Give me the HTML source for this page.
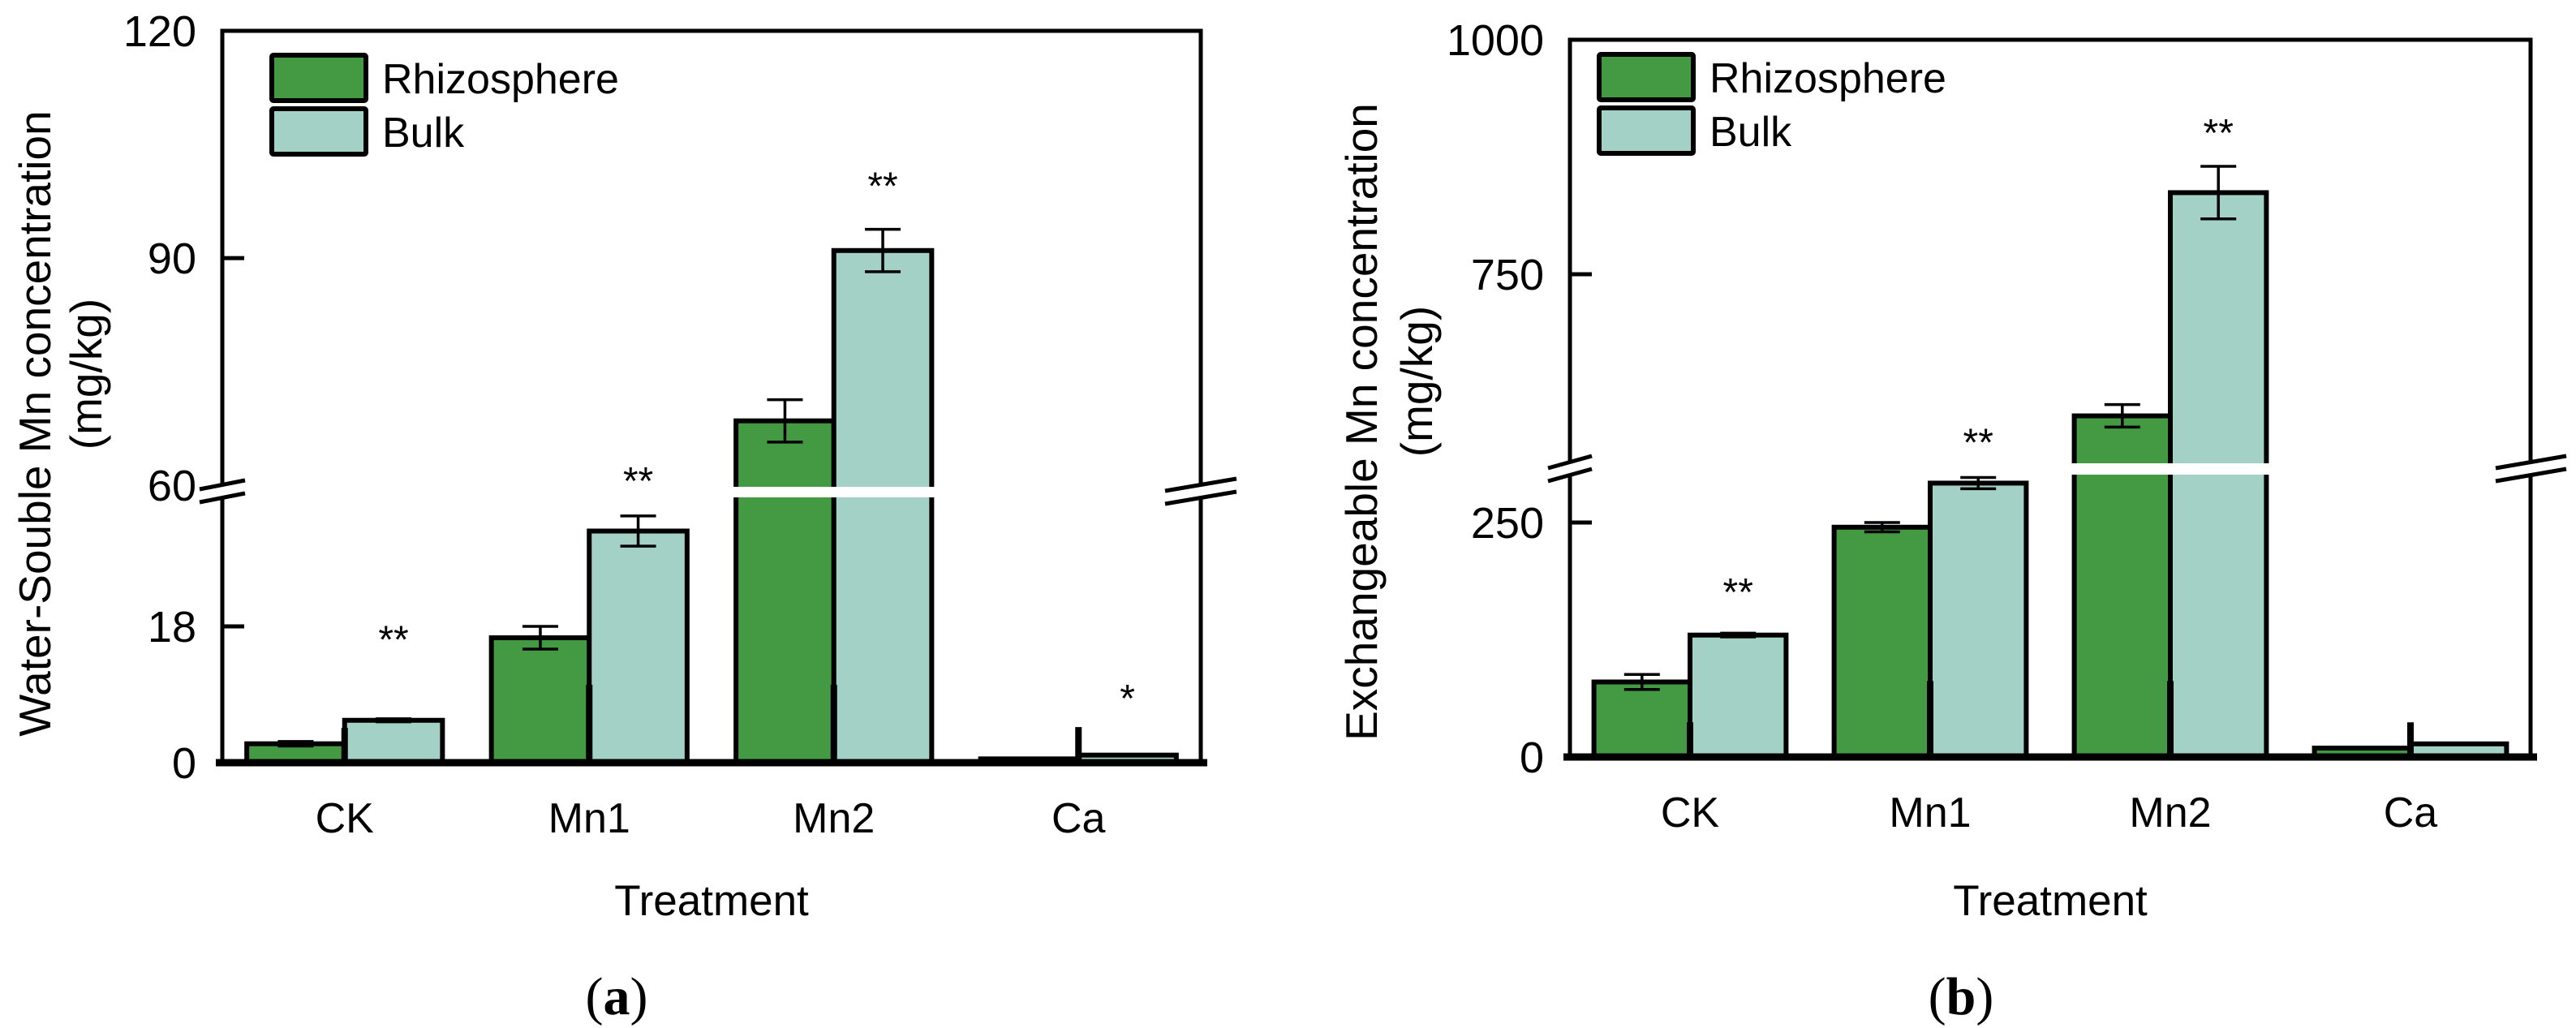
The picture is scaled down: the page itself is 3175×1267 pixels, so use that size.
<!DOCTYPE html>
<html><head><meta charset="utf-8">
<style>
html,body{margin:0;padding:0;background:#fff;}
svg{display:block;font-family:"Liberation Sans",Arial,sans-serif;}
</style></head>
<body>
<svg id="fig" width="3175" height="1267" viewBox="0 0 3175 1267" xmlns="http://www.w3.org/2000/svg">
  <rect x="0" y="0" width="3175" height="1267" fill="#fff"/>
</svg>
<script>
// ---------- data ----------
const categories = ["CK", "Mn1", "Mn2", "Ca"];
// panel (a): water-soluble Mn (mg/kg)
const aRhizo = [2.5, 16.5, 68.5, 0.5];
const aBulk  = [5.6, 30.6, 91.0, 1.0];
const aRhizoErr = [0.3, 1.5, 2.8, 0];
const aBulkErr  = [0.2, 2.0, 2.8, 0];
const aMarkLine = [4.6, 10.3, 10.3, 4.7];
const aStars = ["**", "**", "**", "*"];
const aStarVal = [17.5, 61.8, 100.8, 9.75];
const aTickVals = [0, 18, 60, 90, 120];
const aTickLabels = ["0", "18", "60", "90", "120"];
// panel (b): exchangeable Mn (mg/kg)
const bRhizo = [80, 245, 599, 9.5];
const bBulk  = [130, 292, 837, 14];
const bRhizoErr = [8, 5, 12, 0];
const bBulkErr  = [2, 6, 28, 0];
const bMarkLine = [37, 81, 81, 37];
const bStars = ["**", "**", "**", ""];
const bStarVal = [186, 581, 911, 0];
const bTickVals = [0, 250, 750, 1000];
const bTickLabels = ["0", "250", "750", "1000"];

const NS = "http://www.w3.org/2000/svg";
const svg = document.getElementById("fig");
function el(tag, attrs, parent) {
  const e = document.createElementNS(NS, tag);
  for (const k in attrs) e.setAttribute(k, attrs[k]);
  (parent || svg).appendChild(e);
  return e;
}
function txt(str, attrs, parent) { const t = el("text", attrs, parent); t.textContent = str; return t; }

function drawPanel(P) {
  const g = el("g", {});
  
  
  const y = v => v < P.breakVal ? P.base - v * P.k : P.upRef - (v - P.upVal) * P.k;
  const gw = (P.right - P.left) / categories.length;
  const bw = gw * 0.4;
  const frame = el("path", {d:`M${P.left},${P.base} L${P.left},${P.top} L${P.right},${P.top} L${P.right},${P.base}`, fill:"none", stroke:"#000", "stroke-width":5}, g);
  
  
  categories.forEach((c, i) => {
    const cx = P.left + gw * (i + 0.5);
    const series = [[P.rhizo[i], P.rErr[i], "#439a43", cx - bw, "rhizosphere"], [P.bulk[i], P.bErr[i], "#a3d1c6", cx, "bulk"]];
    series.forEach(s => {
      const top = y(s[0]);
      const r = el("rect", {x:s[3], y:top, width:bw, height:P.base - top, fill:s[2], stroke:"#000", "stroke-width":6}, g);
      
      
      if (s[1] > 0) {
        const ex = s[3] + bw / 2, y1 = y(s[0] + s[1]), y2 = y(s[0] - s[1]);
        const eb = el("path", {d:`M${ex},${y1} L${ex},${y2} M${ex-22},${y1} L${ex+22},${y1} M${ex-22},${y2} L${ex+22},${y2}`, stroke:"#000", "stroke-width":3.5, fill:"none"}, g);
        
        
      }
    });
    const ml = el("line", {x1:cx, x2:cx, y1:P.base, y2:y(P.mark[i]), stroke:"#000", "stroke-width":8}, g);
    
    
    if (P.stars[i]) {
      const st = txt(P.stars[i], {x:cx + bw / 2, y:y(P.starVal[i]) + 28, "font-size":48, "text-anchor":"middle", fill:"#000"}, g);
      
      
    }
    const cl = txt(c, {x:cx, y:P.base + 86, "font-size":52, "text-anchor":"middle", fill:"#000"}, g);
    
    
  });
  const band = el("rect", {x:P.left + 5, y:P.bandY, width:P.right - P.left - 10, height:P.bandH, fill:"#fff"}, g);
  
  
  const xa = el("line", {x1:P.left - 8, x2:P.right + 8, y1:P.base, y2:P.base, stroke:"#000", "stroke-width":9}, g);
  
  
  P.ticks.forEach((v, j) => {
    const ty = y(v);
    if (v !== 0 && ty > P.top + 5 && Math.abs(ty - P.brkY) > 20) {
      const tk = el("line", {x1:P.left, x2:P.left + 27, y1:ty, y2:ty, stroke:"#000", "stroke-width":5}, g);
      
      
    }
    const tl = txt(P.tickLabels[j], {x:P.labelX, y:ty + 19, "font-size":P.tickFont, "text-anchor":"end", fill:"#000"}, g);
    
    
  });
  P.breaks.forEach(b => {
    const bg = el("g", {}, g);
    
    
    el("polygon", {points:`${b[0]},${b[1]} ${b[2]},${b[3]} ${b[2]},${b[3]+16} ${b[0]},${b[1]+16}`, fill:"#fff"}, bg);
    el("line", {x1:b[0], y1:b[1], x2:b[2], y2:b[3], stroke:"#000", "stroke-width":5}, bg);
    el("line", {x1:b[0], y1:b[1] + 16, x2:b[2], y2:b[3] + 16, stroke:"#000", "stroke-width":5}, bg);
  });
  const lg = el("g", {}, g);
  
  
  [["Rhizosphere", "#439a43", 0], ["Bulk", "#a3d1c6", 1]].forEach(L => {
    const ly = P.legY + L[2] * 66;
    const lr = el("rect", {x:P.legX, y:ly, width:116, height:56, fill:L[1], stroke:"#000", "stroke-width":6, rx:2}, lg);
    
    
    const lt = txt(L[0], {x:P.legX + 136, y:ly + 47, "font-size":52, fill:"#000"}, lg);
    
    
  });
  const mid = (P.left + P.right) / 2;
  const xt = txt("Treatment", {x:mid, y:1128, "font-size":53, "text-anchor":"middle", fill:"#000"}, g);
  
  
  const yt = txt(P.yTitle, {x:0, y:0, "font-size":55, "text-anchor":"middle", fill:"#000", transform:`translate(${P.yT1x},${P.yT1y}) rotate(-90)`}, g);
  
  
  const yu = txt("(mg/kg)", {x:0, y:0, "font-size":55, "text-anchor":"middle", fill:"#000", transform:`translate(${P.yT2x},${P.yT2y}) rotate(-90)`}, g);
  
  
  const pl = el("text", {x:P.panelX, y:1250, "font-size":66, "text-anchor":"middle", fill:"#000", "font-family":"'Liberation Serif',serif"}, g);
  
  
  const t1 = el("tspan", {}, pl); t1.textContent = "(";
  const t2 = el("tspan", {"font-weight":"bold"}, pl); t2.textContent = P.panel;
  const t3 = el("tspan", {}, pl); t3.textContent = ")";
}

drawPanel({name:"chart-a", left:274, right:1480, top:38, base:940, k:9.33, breakVal:50, upRef:598, upVal:60,
  rhizo:aRhizo, bulk:aBulk, rErr:aRhizoErr, bErr:aBulkErr, mark:aMarkLine, stars:aStars, starVal:aStarVal,
  ticks:aTickVals, tickLabels:aTickLabels, labelX:242, tickFont:54, brkY:598,
  bandY:600, bandH:13,
  breaks:[[246,603,302,592],[1436,605,1524,590]],
  legX:335, legY:68, yTitle:"Water-Souble Mn concentration", yT1x:62, yT1y:522, yT2x:125, yT2y:461,
  panel:"a", panelX:760});

drawPanel({name:"chart-b", left:1935, right:3119, top:49, base:933, k:1.156, breakVal:400, upRef:338, upVal:750,
  rhizo:bRhizo, bulk:bBulk, rErr:bRhizoErr, bErr:bBulkErr, mark:bMarkLine, stars:bStars, starVal:bStarVal,
  ticks:bTickVals, tickLabels:bTickLabels, labelX:1903, tickFont:54, brkY:578,
  bandY:571, bandH:14,
  breaks:[[1908,577,1962,562],[3076,577,3163,562]],
  legX:1971, legY:67, yTitle:"Exchangeable Mn concentration", yT1x:1697, yT1y:520, yT2x:1765, yT2y:470,
  panel:"b", panelX:2417});
</script>
</body></html>
